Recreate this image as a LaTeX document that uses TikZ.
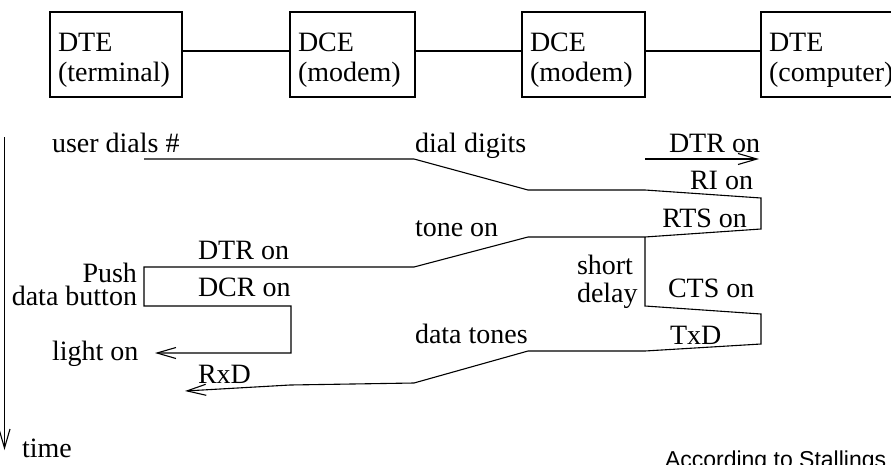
\documentclass[tikz,border=0pt]{standalone}
\usepackage{fontspec}
\setmainfont{Liberation Serif}
\newfontfamily\stsans{Liberation Sans}
\usetikzlibrary{arrows.meta}
\begin{document}
\begin{tikzpicture}[x=1pt,y=-1pt,
  every node/.style={inner sep=0pt,outer sep=0pt},
  lbl/.style={font=\fontsize{28}{30}\selectfont},
  box/.style={draw,line width=1.1pt,anchor=north west},
  ln/.style={line width=1.1pt,line join=miter},
  arr/.style={ln,-{Straight Barb[length=19pt,width=11pt,line width=1.1pt]}}]
\useasboundingbox (0,0) rectangle (891,464);
\clip (0,0) rectangle (891,464);
% boxes
\node[box,minimum width=132pt,minimum height=85pt] (b1) at (50,12) {};
\node[box,minimum width=125pt,minimum height=85pt] (b2) at (290,12) {};
\node[box,minimum width=123pt,minimum height=85pt] (b3) at (522,12) {};
\node[box,minimum width=140pt,minimum height=85pt] (b4) at (761,12) {};
\node[lbl,anchor=base west] (b1a) at (58,51) {DTE};
\node[lbl,anchor=base west] (b1b) at (58,81) {(terminal)};
\node[lbl,anchor=base west] (b2a) at (298,51) {DCE};
\node[lbl,anchor=base west] (b2b) at (298,81) {(modem)};
\node[lbl,anchor=base west] (b3a) at (530,51) {DCE};
\node[lbl,anchor=base west] (b3b) at (530,81) {(modem)};
\node[lbl,anchor=base west] (b4a) at (769,51) {DTE};
\node[lbl,anchor=base west] (b4b) at (769,81) {(computer)};
\draw[ln] ([yshift=3.5pt]b1.east) -- ([yshift=3.5pt]b2.west);
\draw[ln] ([yshift=3.5pt]b2.east) -- ([yshift=3.5pt]b3.west);
\draw[ln] ([yshift=3.5pt]b3.east) -- ([yshift=3.5pt]b4.west);
% time axis
\coordinate (t0) at (4.5,137);
\coordinate (t1) at (4.5,450);
\draw[arr] (t0) -- (t1);
\node[lbl,anchor=base west] (time) at (22,457) {time};
% signal paths
\draw[arr] (144,159) -- (414,159) -- (528,190) -- (645,190) -- (761,198)
  -- (761,229) -- (645,237) -- (528,237) -- (414,267) -- (144,267)
  -- (144,306) -- (291,306) -- (291,353) -- (155,353);
\draw[arr] (645,237) -- (645,306) -- (761,314) -- (761,344) -- (645,351)
  -- (528,351) -- (414,383) -- (290,385) -- (185,391);
\draw[arr] (645,159) -- (759,159);
% labels
\node[lbl,anchor=base west] (l1) at (52,152) {user dials \#};
\node[lbl,anchor=base west] (l2) at (415,152) {dial digits};
\node[lbl,anchor=base east] (l3) at (760,152) {DTR on};
\node[lbl,anchor=base east] (l4) at (753,189) {RI on};
\node[lbl,anchor=base east] (l5) at (747,227) {RTS on};
\node[lbl,anchor=base west] (l6) at (415,236) {tone on};
\node[lbl,anchor=base west] (l7) at (198,259) {DTR on};
\node[lbl,anchor=base east] (l8) at (137,282) {Push};
\node[lbl,anchor=base east] (l9) at (137,305) {data button};
\node[lbl,anchor=base west] (l10) at (198,296) {DCR on};
\node[lbl,anchor=base west] (l11) at (52,360) {light on};
\node[lbl,anchor=base west] (l12) at (198,383) {RxD};
\node[lbl,anchor=base west] (l13) at (577,274) {short};
\node[lbl,anchor=base west] (l14) at (577,302) {delay};
\node[lbl,anchor=base west] (l15) at (668,297) {CTS on};
\node[lbl,anchor=base west] (l16) at (670,344) {TxD};
\node[lbl,anchor=base west] (l17) at (415,343) {data tones};
\node[anchor=base west,font=\stsans\fontsize{23}{25}\selectfont] (src) at (665,467) {According to Stallings};
\end{tikzpicture}
\end{document}
